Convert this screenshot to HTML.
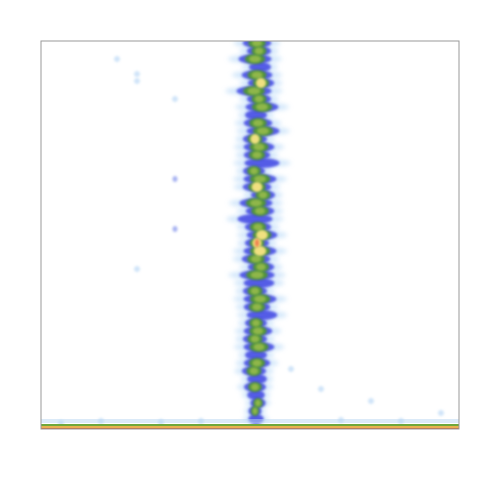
<!DOCTYPE html>
<html><head><meta charset="utf-8"><style>
html,body{margin:0;padding:0;background:#fff;width:480px;height:480px;overflow:hidden}
</style></head><body>
<svg id="chart" width="480" height="480" xmlns="http://www.w3.org/2000/svg">
<defs>
<filter id="blur" x="-50%" y="-50%" width="200%" height="200%"><feGaussianBlur stdDeviation="1.4"/></filter>
<filter id="blur2" x="-50%" y="-50%" width="200%" height="200%"><feGaussianBlur stdDeviation="2.5"/></filter>
<clipPath id="clip"><rect x="41" y="41" width="418" height="388"/></clipPath>
</defs>
<rect x="41" y="41" width="418" height="388" fill="#fff"/>
<g id="marks" clip-path="url(#clip)"></g>
<rect x="41" y="41" width="418" height="388" fill="none" stroke="#999" stroke-width="1"/>
</svg>
<script>
// band rows: y position, centre x, width (data units), density level 1..5
const rowY = [386,378,370,362,354,346,338,330,322,314,306,298,290,282,274,266,258,250,242,234,226,218,210,202,194,186,178,170,162,154,146,138,130,122,114,106,98,90,82,74,66,58,50,42,34,26,18,10];
const rowCenter = [216,218,214,219,216,220,213,218,221,215,217,222,214,218,216,221,213,219,216,222,215,219,214,217,221,216,219,215,220,216,218,214,219,216,221,215,217,214,218,215,216,213,216,214,215,217,214,215];
const rowWidth = [26,22,30,20,28,24,32,22,30,20,26,30,22,28,24,32,20,30,26,22,30,26,32,24,28,22,30,26,24,32,28,22,30,24,28,20,26,22,28,20,24,22,18,20,16,14,12,14];
const rowLevel = [3,3,3,2,3,4,3,3,3,2,3,3,4,3,3,2,3,3,4,3,3,3,2,3,4,5,4,3,3,3,2,3,3,3,2,3,3,3,3,2,3,3,2,3,2,3,3,2];
// scattered faint points
const dotX = [134,134,134,96,96,96,76,20,60,120,160,300,360,400,330,280,250];
const dotY = [250,200,330,355,348,160,370,6,8,7,8,9,8,16,28,40,60];
const dotLevel = [2,2,1,1,1,1,1,1,1,1,1,1,1,1,1,1,1];

const X0=41, Y0=429, PW=418, PH=388, XD=418, YD=388;
const xs = v => X0 + v / XD * PW;
const ys = v => Y0 - v / YD * PH;
const ws = v => v / XD * PW;
const NS = "http://www.w3.org/2000/svg";
const g = document.getElementById('marks');

function ell(cx, cy, rx, ry, fill, op, filt) {
  const e = document.createElementNS(NS, 'ellipse');
  e.setAttribute('cx', cx); e.setAttribute('cy', cy);
  e.setAttribute('rx', rx); e.setAttribute('ry', ry);
  e.setAttribute('fill', fill); e.setAttribute('opacity', op);
  e.setAttribute('filter', filt);
  return e;
}

const layers = [
  {min:1, f:0.9, ry:4.5, c:'#a8d0f6', o:0.5, fl:'url(#blur2)'},
  {min:2, f:0.55, ry:5, c:'#2a2ee0', o:0.75, fl:'url(#blur)'},
  {min:3, f:0.34, ry:5, c:'#4f9a28', o:0.9, fl:'url(#blur)'},
  {min:3, f:0.2, ry:3.5, c:'#a0c050', o:0.8, fl:'url(#blur)'},
  {min:4, f:0.2, ry:5, c:'#f0e080', o:1, fl:'url(#blur)'},
  {min:5, f:0.1, ry:4, c:'#f08050', o:1, fl:'url(#blur)'}
];
layers.forEach(L => {
  rowY.forEach((y, i) => {
    if (rowLevel[i] < L.min) return;
    const e = ell(xs(rowCenter[i]), ys(y), ws(rowWidth[i]) * L.f, L.ry, L.c, L.o, L.fl);
    
    
    g.appendChild(e);
  });
});

dotX.forEach((x, i) => {
  const e = ell(xs(x), ys(dotY[i]), dotLevel[i] > 1 ? 2.5 : 3, 3, dotLevel[i] > 1 ? '#6a7ee8' : '#b0d2f4', 0.6, 'url(#blur)');
  
  
  g.appendChild(e);
});

// bottom ridge
const ridge = [['#b8d6f2',419,4,0.5],['#6fa83a',424,2,1],['#e8b050',426,2,1],['#d8602a',428,1.5,1]];
ridge.forEach(r => {
  const rc = document.createElementNS(NS, 'rect');
  rc.setAttribute('x', 41); rc.setAttribute('y', r[1]);
  rc.setAttribute('width', 418); rc.setAttribute('height', r[2]);
  rc.setAttribute('fill', r[0]); rc.setAttribute('opacity', r[3]);
  
  
  g.appendChild(rc);
});
</script>
</body></html>
